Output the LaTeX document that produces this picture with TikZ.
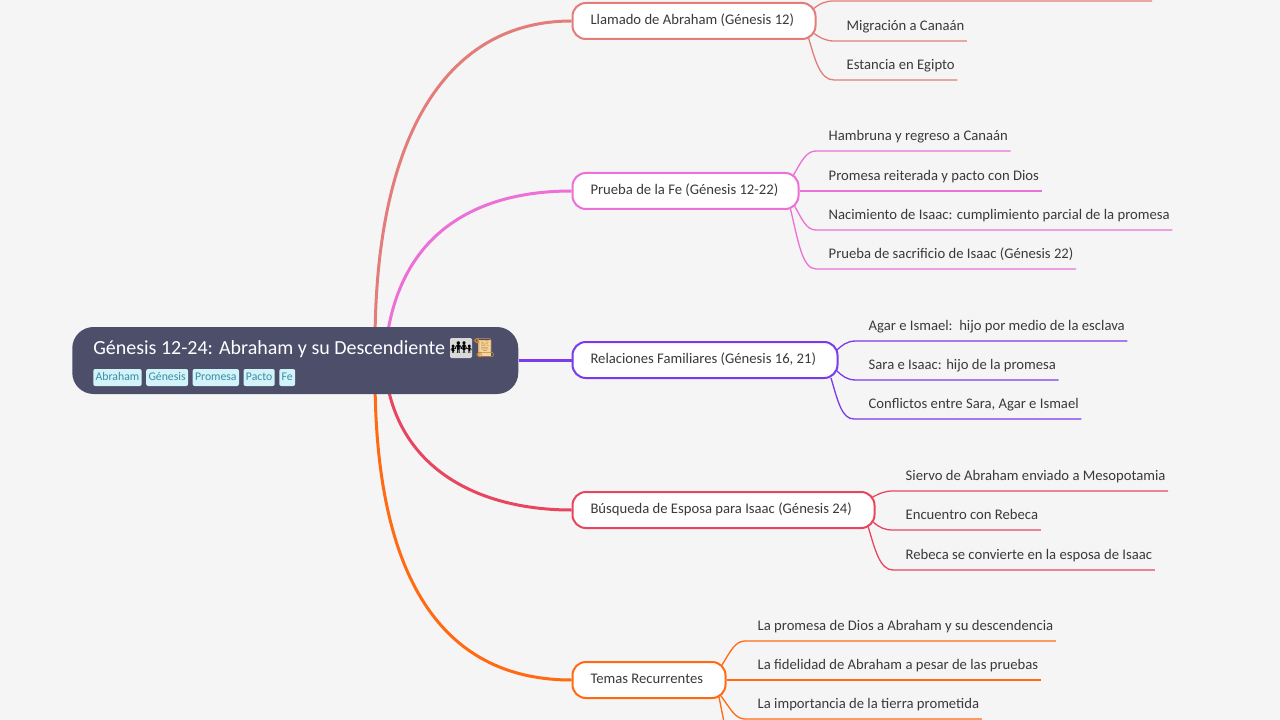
\documentclass[tikz,border=0pt]{standalone}
\usepackage{fontspec}
\setmainfont{Carlito}
\newfontfamily\emojifont{Noto Emoji}
\usetikzlibrary{positioning,backgrounds}
\def\px{0.75pt}
\definecolor{pagebg}{HTML}{F5F5F5}
\definecolor{rootfill}{HTML}{4C4E6A}
\definecolor{tagfill}{HTML}{D2F3F9}
\definecolor{tagtext}{HTML}{3B8CA3}
\definecolor{inktext}{HTML}{3A3A3A}
\definecolor{scrolltan}{HTML}{F3D6A4}
\definecolor{scrolledge}{HTML}{C98A3C}
\definecolor{colA}{HTML}{E27D7B}
\definecolor{colB}{HTML}{EC70D6}
\definecolor{colC}{HTML}{7C3AED}
\definecolor{colD}{HTML}{E8455F}
\definecolor{colE}{HTML}{FF6A13}
\tikzset{
  rootbox/.style={fill=rootfill, rounded corners=16pt, minimum width=446*\px, minimum height=67*\px, anchor=west, inner sep=0pt},
  tagbox/.style={fill=tagfill, text=tagtext, rounded corners=1.5pt, font=\fontsize{8.8}{10}\selectfont, inner xsep=1.8pt, inner ysep=0pt, minimum height=17*\px, text height=6.5pt, text depth=1.5pt},
  topicbox/.style={fill=white, draw=#1, line width=2*\px, rounded corners=10pt, minimum height=36*\px, anchor=west, inner ysep=0pt, inner xsep=18*\px, align=flush left, text=inktext, font=\fontsize{11}{13}\selectfont, text height=8pt, text depth=2.5pt},
  leafbox/.style={anchor=south west, inner xsep=1.8pt, inner ysep=5.4pt, text=inktext, font=\fontsize{11}{13}\selectfont, text height=8pt, text depth=2.5pt},
  mainline/.style={draw=#1, line width=3*\px},
  leafline/.style={draw=#1, line width=1.3*\px},
}
\begin{document}
\begin{tikzpicture}[x=\px,y=-\px]
\useasboundingbox (0,0) rectangle (1280,720);
% central topic
\node[rootbox] (root) at (72,360.5) {};
\node[anchor=west, inner sep=0pt, text=white, font=\fontsize{15}{17}\selectfont] (roottitle) at (93,349) {Génesis 12-24: Abraham y su Descendiente};
\node[fill=black!15, rounded corners=1pt, inner sep=0pt, minimum size=20*\px, font=\emojifont\fontsize{13}{14}\selectfont] (rootfamily) at (461,348) {👪};
\fill[scrolltan] (478,340) rectangle (491,356);
\node[inner sep=0pt, text=scrolledge, font=\emojifont\fontsize{14}{15}\selectfont] (rootscroll) at (484,348) {📜};
\node[tagbox, anchor=west] (tagA) at (93,377.5) {Abraham};
\node[tagbox, right=4*\px of tagA] (tagB) {Génesis};
\node[tagbox, right=4*\px of tagB] (tagC) {Promesa};
\node[tagbox, right=4*\px of tagC] (tagD) {Pacto};
\node[tagbox, right=4*\px of tagD] (tagE) {Fe};
% topics
\node[topicbox=colA, text width=207*\px] (llamado) at (571.5,21) {Llamado de Abraham (Génesis 12)};
\node[topicbox=colB, text width=190*\px] (prueba) at (571.5,191) {Prueba de la Fe (Génesis 12-22)};
\node[topicbox=colC, text width=229*\px] (familia) at (571.5,360) {Relaciones Familiares (Génesis 16, 21)};
\node[topicbox=colD, text width=266*\px] (esposa) at (571.5,510) {Búsqueda de Esposa para Isaac (Génesis 24)};
\node[topicbox=colE, text width=117*\px] (temas) at (571.5,680) {Temas Recurrentes};
% leaves
\node[leafbox] (migra) at (844,41) {Migración a Canaán};
\node[leafbox] (egipto) at (844,80) {Estancia en Egipto};
\node[leafbox] (hambre) at (826,151) {Hambruna y regreso a Canaán};
\node[leafbox] (pacto) at (826,191) {Promesa reiterada y pacto con Dios};
\node[leafbox] (isaac) at (826,230) {Nacimiento de Isaac: cumplimiento parcial de la promesa};
\node[leafbox] (sacrif) at (826,269) {Prueba de sacrificio de Isaac (Génesis 22)};
\node[leafbox] (agar) at (866,341) {Agar e Ismael:\ \ hijo por medio de la esclava};
\node[leafbox] (sara) at (866,380) {Sara e Isaac: hijo de la promesa};
\node[leafbox] (conflic) at (866,419) {Conflictos entre Sara, Agar e Ismael};
\node[leafbox] (siervo) at (903,491) {Siervo de Abraham enviado a Mesopotamia};
\node[leafbox] (rebeca) at (903,530) {Encuentro con Rebeca};
\node[leafbox] (boda) at (903,570) {Rebeca se convierte en la esposa de Isaac};
\node[leafbox] (promesa) at (755,641) {La promesa de Dios a Abraham y su descendencia};
\node[leafbox] (fidel) at (755,680) {La fidelidad de Abraham a pesar de las pruebas};
\node[leafbox] (tierra) at (755,719) {La importancia de la tierra prometida};
\coordinate (cutA) at (1152,1);
\coordinate (cutE) at (724,722);
\begin{scope}[on background layer]
\fill[pagebg] (0,0) rectangle (1280,720);
\draw[mainline=colA] (375,345) .. controls (375,130) and (450,21) .. (llamado.west);
\draw[mainline=colB] (386,345) .. controls (399,230) and (480,191) .. (prueba.west);
\draw[mainline=colC] (root.east |- familia.west) -- (familia.west);
\draw[mainline=colD] (386,376) .. controls (399,470) and (480,510) .. (esposa.west);
\draw[mainline=colE] (375,376) .. controls (375,590) and (450,680) .. (temas.west);
% leaf lines
\draw[leafline=colA] (812,10) .. controls (820,3) and (826,1) .. (834,1) -- (cutA);
\draw[leafline=colA] (812,32) .. controls (820,38) and (826,41) .. (834,41) -- (migra.south east);
\draw[leafline=colA] (808,36) .. controls (815,60) and (820,80) .. (834,80) -- (egipto.south east);
\draw[leafline=colB] (793,176) .. controls (801,162) and (806,151) .. (816,151) -- (hambre.south east);
\draw[leafline=colB] (prueba.east) -- (pacto.south east);
\draw[leafline=colB] (794,205) .. controls (802,219) and (806,230) .. (816,230) -- (isaac.south east);
\draw[leafline=colB] (790,207) .. controls (798,240) and (802,269) .. (816,269) -- (sacrif.south east);
\draw[leafline=colC] (836,351) .. controls (842,345) and (847,341) .. (856,341) -- (agar.south east);
\draw[leafline=colC] (836,370) .. controls (842,376) and (847,380) .. (856,380) -- (sara.south east);
\draw[leafline=colC] (831,378) .. controls (838,402) and (842,419) .. (854,419) -- (conflic.south east);
\draw[leafline=colD] (871,498) .. controls (880,493) and (885,491) .. (893,491) -- (siervo.south east);
\draw[leafline=colD] (873,522) .. controls (880,528) and (885,530) .. (893,530) -- (rebeca.south east);
\draw[leafline=colD] (868,526) .. controls (875,550) and (880,570) .. (893,570) -- (boda.south east);
\draw[leafline=colE] (722,665) .. controls (730,652) and (735,641) .. (745,641) -- (promesa.south east);
\draw[leafline=colE] (temas.east) -- (fidel.south east);
\draw[leafline=colE] (721,696) .. controls (730,708) and (735,719) .. (745,719) -- (tierra.south east);
\draw[leafline=colE] (719,697) -- (cutE);
\end{scope}
\end{tikzpicture}
\end{document}
